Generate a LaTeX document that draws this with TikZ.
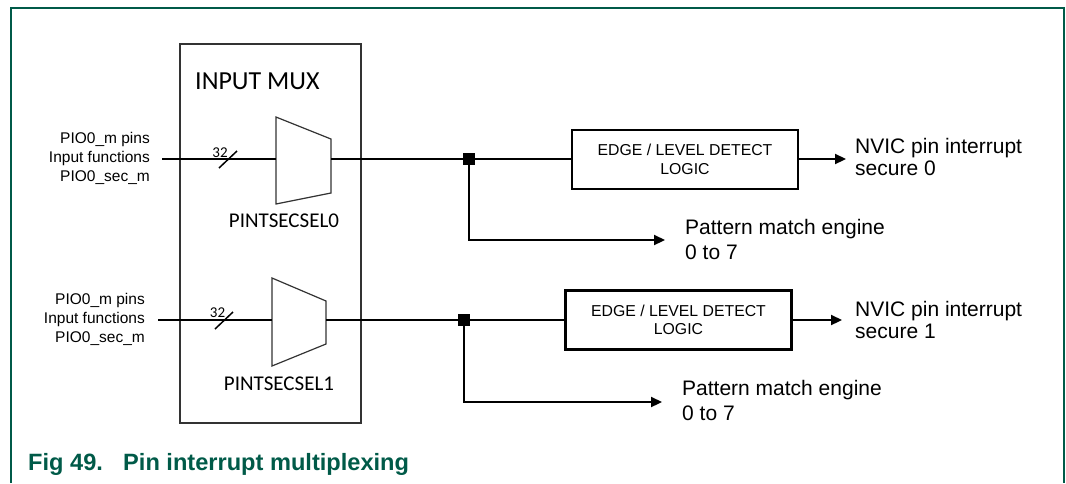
\documentclass[tikz,border=0pt]{standalone}
\usepackage{fontspec}
\setmainfont{Liberation Sans}
\newfontfamily\calib{Carlito}
\usetikzlibrary{arrows.meta}
\definecolor{nxpgreen}{RGB}{0,90,72}
\begin{document}
\begin{tikzpicture}[x=1pt,y=-1pt,
  wire/.style={line width=2.2pt, black},
  arr/.style={wire,-{Triangle[length=11pt,width=10pt]}},
  thinline/.style={line width=1.2pt, black!80},
  edgebox/.style={draw, line width=2.6pt, minimum width=226pt, minimum height=59pt, align=center, font=\fontsize{15.8}{18.5}\selectfont, inner sep=0pt},
  inlabel/.style={anchor=east, align=right, inner sep=0pt, font=\fontsize{15.5}{19}\selectfont},
  outlabel/.style={anchor=west, align=left, inner sep=0pt, font=\fontsize{21}{22}\selectfont},
  patlabel/.style={anchor=west, align=left, inner sep=0pt, font=\fontsize{21}{25}\selectfont},
  muxlabel/.style={inner sep=0pt, font=\calib\fontsize{21}{24}\selectfont},
  buslabel/.style={inner sep=0pt, font=\calib\fontsize{15}{17}\selectfont},
  junction/.style={fill=black, minimum size=12pt, inner sep=0pt},
  caption/.style={anchor=base west, inner sep=0pt, text=nxpgreen, font=\bfseries\fontsize{23.6}{26}\selectfont},
  frame/.style={line width=2pt, nxpgreen}
]
\useasboundingbox (0,0) rectangle (1066,483);

% frame
\draw[frame] (11,483) -- (11,8) -- (1064,8) -- (1064,483);

% input mux box
\node[draw=black!80, line width=1.2pt, minimum width=181pt, minimum height=379pt, inner sep=0pt] (inmux) at (270.5,233.5) {};
\node[anchor=west, inner sep=0pt, font=\calib\fontsize{26}{30}\selectfont] (inmuxlbl) at (195,81) {INPUT MUX};

% ---------- row 0 ----------
\node[inlabel] (lab0) at (150,158) {PIO0\_m pins\\Input functions\\PIO0\_sec\_m};
\coordinate (in0) at (162,159);
\draw[thinline, fill=white] (276,117) -- (331,139) -- (331,193) -- (276,204) -- cycle;
\coordinate (m0in) at (276,159);
\coordinate (m0out) at (331,159);
\node[muxlabel] (sel0) at (284,221) {PINTSECSEL0};
\draw[wire] (in0) -- (m0in);
\draw[line width=1.5pt] (219,168) -- (237,151);
\node[buslabel] (bus0) at (220,152.5) {32};
\node[edgebox] (e0) at (685,159.5) {EDGE / LEVEL DETECT\\LOGIC};
\node[junction] (j0) at (469,159) {};
\draw[wire] (m0out) -- (e0.west |- m0out);
\coordinate (p0) at (665,240);
\draw[arr] (j0.center) |- (p0);
\node[patlabel] (pat0) at (685,239.5) {Pattern match engine\\0 to 7};
\coordinate (n0) at (846,159);
\draw[arr] (e0.east |- n0) -- (n0);
\node[outlabel] (nv0) at (855,157) {NVIC pin interrupt\\secure 0};

% ---------- row 1 ----------
\node[inlabel] (lab1) at (145,319) {PIO0\_m pins\\Input functions\\PIO0\_sec\_m};
\coordinate (in1) at (158,320);
\draw[thinline, fill=white] (272,278) -- (326,301) -- (326,344) -- (272,366) -- cycle;
\coordinate (m1in) at (272,320);
\coordinate (m1out) at (326,320);
\node[muxlabel] (sel1) at (279,384) {PINTSECSEL1};
\draw[wire] (in1) -- (m1in);
\draw[line width=1.5pt] (215,329) -- (233,312);
\node[buslabel] (bus1) at (217.5,313) {32};
\node[edgebox] (e1) at (678.5,320) {EDGE / LEVEL DETECT\\LOGIC};
\node[junction] (j1) at (464,320) {};
\draw[wire] (m1out) -- (e1.west |- m1out);
\coordinate (p1) at (662,402);
\draw[arr] (j1.center) |- (p1);
\node[patlabel] (pat1) at (682,400) {Pattern match engine\\0 to 7};
\coordinate (n1) at (842,320);
\draw[arr] (e1.east |- n1) -- (n1);
\node[outlabel] (nv1) at (855,319.5) {NVIC pin interrupt\\secure 1};

% caption
\node[caption] (fignum) at (28,470) {Fig 49.};
\node[caption] (figtitle) at (123,470) {Pin interrupt multiplexing};
\end{tikzpicture}
\end{document}
